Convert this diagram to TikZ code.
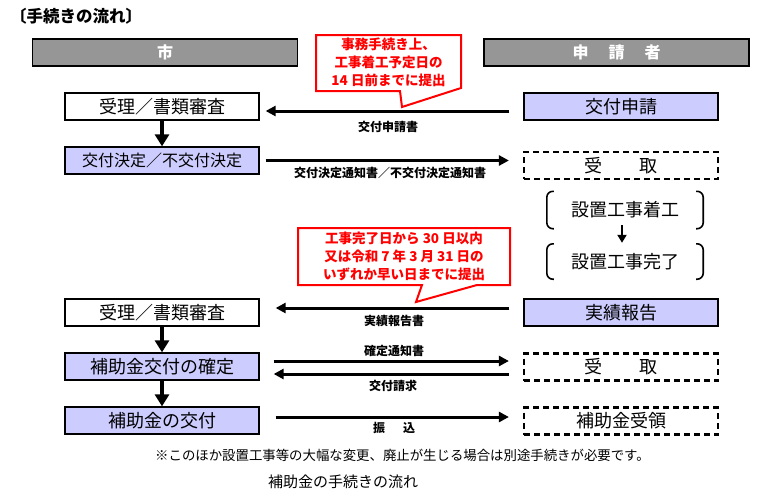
\documentclass[tikz,border=0pt]{standalone}
\usepackage{fontspec}
\setmainfont{Noto Sans CJK JP}
\usetikzlibrary{arrows.meta,calc}
\definecolor{lav}{HTML}{CCCCFF}
\definecolor{hdr}{HTML}{969696}
\begin{document}
\begin{tikzpicture}[x=1pt,y=-1pt,
  box/.style={draw=black,line width=1.3pt,minimum width=194pt,minimum height=27pt,inner sep=0pt,font=\fontsize{18}{20}\selectfont},
  lbox/.style={box,fill=white},
  pbox/.style={box,fill=lav},
  dbox/.style={box,dash pattern=on 6pt off 4pt,line width=2.2pt},
  hbox/.style={draw=black,line width=1.3pt,fill=hdr,minimum width=265pt,minimum height=27pt,inner sep=0pt,text=white,font=\fontsize{16}{18}\selectfont\bfseries},
  harrow/.style={line width=3pt,-{Triangle[length=10pt,width=10pt]}},
  varrow/.style={line width=4pt,-{Triangle[length=12pt,width=14pt]}},
  sarrow/.style={line width=2.5pt,-{Triangle[length=8pt,width=9pt]}},
  lbl/.style={font=\fontsize{12}{13}\selectfont\bfseries,inner sep=0pt},
  callout/.style={draw=red,line width=2pt,fill=white,line join=miter},
  ctext/.style={text=red,font=\fontsize{13.5}{18}\selectfont\bfseries,align=center,inner sep=0pt},
  brk/.style={line width=1.6pt,rounded corners=6pt},
  stage/.style={minimum width=156pt,inner sep=0pt,font=\fontsize{18}{20}\selectfont}
]
\useasboundingbox (0,0) rectangle (757,498);

% title
\node[anchor=west,inner sep=0pt,font=\fontsize{16.5}{18}\selectfont\bfseries] (title) at (10,16) {〔手続きの流れ〕};

% headers
\node[hbox] (h1) at (165,52.5) {市};
\node[hbox] (h2) at (616.5,52.5) {申\hspace{1.25em}請\hspace{1.25em}者};

% callout 1
\draw[callout] (316,35) -- (461,35) -- (461,88) -- (402,107) -- (400,91) -- (316,91) -- cycle;
\node[ctext] (c1) at (388.5,62) {事務手続き上、\\工事着工予定日の\\14 日前までに提出};

% left column
\node[lbox] (l1) at (162,106.5) {受理／書類審査};
\node[pbox,font=\fontsize{16}{18}\selectfont] (l2) at (162,160.5) {交付決定／不交付決定};
\node[lbox] (l3) at (162,312.5) {受理／書類審査};
\node[pbox] (l4) at (162,366.5) {補助金交付の確定};
\node[pbox] (l5) at (162,420.5) {補助金の交付};

% right column
\node[pbox] (r1) at (621,106.5) {交付申請};
\node[dbox] (r2) at (621,165.5) {受\hspace{2.1em}取};
\node[stage,minimum height=37pt] (r3) at (625,210) {設置工事着工};
\node[stage,minimum height=35pt] (r4) at (625,261.5) {設置工事完了};
\node[pbox] (r5) at (621,312.5) {実績報告};
\node[dbox] (r6) at (621,367) {受\hspace{2.1em}取};
\node[dbox] (r7) at (621,421) {補助金受領};

% brackets
\draw[brk] ([xshift=7pt]r3.north west) -- (r3.north west) -- (r3.south west) -- ([xshift=7pt]r3.south west);
\draw[brk] ([xshift=-7pt]r3.north east) -- (r3.north east) -- (r3.south east) -- ([xshift=-7pt]r3.south east);
\draw[brk] ([xshift=7pt]r4.north west) -- (r4.north west) -- (r4.south west) -- ([xshift=7pt]r4.south west);
\draw[brk] ([xshift=-7pt]r4.north east) -- (r4.north east) -- (r4.south east) -- ([xshift=-7pt]r4.south east);
\draw[sarrow] ([xshift=-3pt,yshift=3.5pt]r3.south) -- ([xshift=-3pt,yshift=1pt]r4.north);

% callout 2
\draw[callout] (298,228) -- (510,228) -- (510,285) -- (477,285) -- (416,302) -- (422,285) -- (298,285) -- cycle;
\node[ctext] (c2) at (404,256) {工事完了日から 30 日以内\\又は令和 7 年 3 月 31 日の\\いずれか早い日までに提出};

% vertical arrows
\draw[varrow] (l1.south) -- (l2.north);
\draw[varrow] (l3.south) -- (l4.north);
\draw[varrow] (l4.south) -- (l5.north);

% horizontal arrows
\draw[harrow,shorten <=14pt,shorten >=6pt] ([yshift=-4.5pt]r1.west) -- ([yshift=-4.5pt]r1.west -| l1.east);
\node[lbl] (t1) at (388,127) {交付申請書};
\draw[harrow,shorten <=6pt,shorten >=14pt] (l2.east) -- (l2.east -| r2.west);
\node[lbl] (t2) at (390,173) {交付決定通知書／不交付決定通知書};
\draw[harrow,shorten <=14pt,shorten >=16pt] ([yshift=4.5pt]r5.west) -- ([yshift=4.5pt]r5.west -| l3.east);
\node[lbl] (t3) at (394,321) {実績報告書};
\draw[harrow,shorten <=14pt,shorten >=14pt] ([yshift=5.5pt]l4.east) -- ([yshift=5.5pt]l4.east -| r6.west);
\node[lbl] (t4) at (394,351) {確定通知書};
\draw[harrow,shorten <=14pt,shorten >=14pt] ([yshift=-7.5pt]l4.east -| r6.west) -- ([yshift=-7.5pt]l4.east);
\node[lbl] (t5) at (393,386) {交付請求};
\draw[harrow,shorten <=16pt,shorten >=14pt] ([yshift=3.5pt]l5.east) -- ([yshift=3.5pt]l5.east -| r7.west);
\node[lbl] (t6) at (394,428) {振\hspace{1.5em}込};

% notes
\node[anchor=west,inner sep=0pt,font=\fontsize{13.4}{15}\selectfont] (note) at (155,455) {※このほか設置工事等の大幅な変更、廃止が生じる場合は別途手続きが必要です。};
\node[anchor=west,inner sep=0pt,font=\fontsize{15}{17}\selectfont] (cap) at (268,482) {補助金の手続きの流れ};
\end{tikzpicture}
\end{document}
